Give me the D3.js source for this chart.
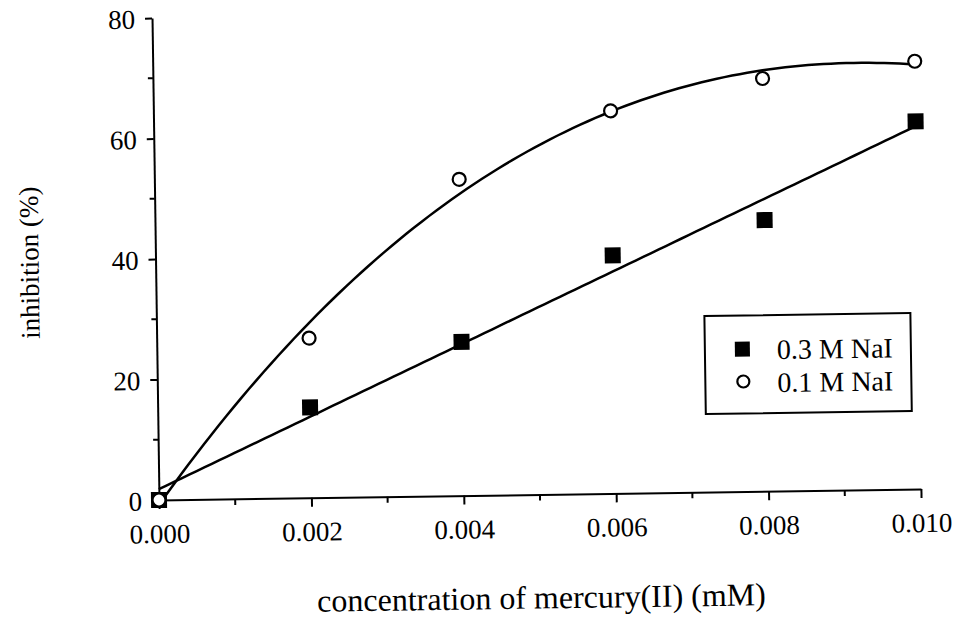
<!DOCTYPE html>
<meta charset="utf-8">
<style>
body { margin: 0; background: #fff; }
text { font-family: "Liberation Serif", "Times New Roman", serif; fill: #000; }
.axis path, .axis line { stroke: #000; stroke-width: 2px; }
.fit { fill: none; stroke: #000; stroke-width: 2.5px; }
</style>
<svg width="956" height="622"></svg>
<script src="https://cdn.jsdelivr.net/npm/d3@7"></script>
<script>

// concentration of mercury(II), mM
var conc = [0, 0.002, 0.004, 0.006, 0.008, 0.010];
// inhibition (%)
var nai03 = [0, 15, 25.5, 39.5, 45, 61];
var nai01 = [0, 26.5, 52.5, 63.5, 68.5, 71];
var xTicks = [0, 0.002, 0.004, 0.006, 0.008, 0.010];
var yTicks = [0, 20, 40, 60, 80];

var svg = d3.select("svg"),
    w = 762, h = 482;

// the scan is turned a little, so the whole plot is too
var g = svg.append("g")
    .attr("transform", "translate(159,500) rotate(-0.83) translate(0," + (-h) + ")");

var x = d3.scaleLinear().domain([0, 0.010]).range([0, w]);
var y = d3.scaleLinear().domain([0, 80]).range([h, 0]);

// least squares polynomial, used for the two fitted curves
function polyfit(xs, ys, deg) {
  var n = deg + 1, A = [], i, j, k;
  for (i = 0; i < n; i++) {
    A.push([]);
    for (j = 0; j <= n; j++) A[i].push(0);
  }
  xs.forEach(function(xv, p) {
    var u = xv * 1000;
    for (i = 0; i < n; i++) {
      for (j = 0; j < n; j++) A[i][j] += Math.pow(u, i + j);
      A[i][n] += Math.pow(u, i) * ys[p];
    }
  });
  for (i = 0; i < n; i++) {
    for (k = i + 1; k < n; k++) {
      var f = A[k][i] / A[i][i];
      for (j = i; j <= n; j++) A[k][j] -= f * A[i][j];
    }
  }
  var c = new Array(n);
  for (i = n - 1; i >= 0; i--) {
    var s = A[i][n];
    for (j = i + 1; j < n; j++) s -= A[i][j] * c[j];
    c[i] = s / A[i][i];
  }
  return function(xv) {
    var u = xv * 1000, r = 0;
    for (var q = 0; q < n; q++) r += c[q] * Math.pow(u, q);
    return r;
  };
}

var fit03 = polyfit(conc, nai03, 1),
    fit01 = polyfit(conc, nai01, 3);

var line = d3.line()
    .x(function(d) { return x(d[0]); })
    .y(function(d) { return y(d[1]); });

var xs = d3.range(0, 101).map(function(i) { return i * 0.0001; });

g.append("path").attr("class", "fit")
    .attr("d", line(xs.map(function(v) { return [v, fit03(v)]; })));
g.append("path").attr("class", "fit")
    .attr("d", line(xs.map(function(v) { return [v, fit01(v)]; })));

// axes: majors with labels, minors in between
var xAxis = g.append("g").attr("class", "axis")
    .attr("transform", "translate(0," + h + ")")
    .call(d3.axisBottom(x).tickValues(xTicks).tickSize(9).tickSizeOuter(0)
      .tickFormat(d3.format(".3f")));
xAxis.selectAll("text").attr("font-size", 27).attr("dy", "1.15em");
xAxis.append("g").selectAll("line")
    .data(d3.range(1, 10, 2).map(function(i) { return i * 0.001; }))
    .enter().append("line")
      .attr("x1", function(d) { return x(d); }).attr("x2", function(d) { return x(d); })
      .attr("y1", 0).attr("y2", 6);

var yAxis = g.append("g").attr("class", "axis")
    .call(d3.axisLeft(y).tickValues(yTicks).tickSize(7).tickSizeOuter(0));
yAxis.selectAll("text").attr("font-size", 27).attr("x", -17).attr("dy", "0.36em");
yAxis.append("g").selectAll("line")
    .data([10, 30, 50, 70])
    .enter().append("line")
      .attr("x1", -5).attr("x2", 0)
      .attr("y1", function(d) { return y(d); }).attr("y2", function(d) { return y(d); });
yAxis.selectAll(".domain, line").attr("stroke-width", 2);
xAxis.selectAll(".domain, line").attr("stroke-width", 2);

// markers
var pts03 = conc.map(function(c, i) { return [c, nai03[i]]; }),
    pts01 = conc.map(function(c, i) { return [c, nai01[i]]; });

g.selectAll(".sq").data(pts03).enter().append("rect")
    .attr("x", function(d) { return x(d[0]) - 8; })
    .attr("y", function(d) { return y(d[1]) - 8; })
    .attr("width", 16).attr("height", 16)
    .attr("fill", "#000");

g.selectAll(".ci").data(pts01).enter().append("circle")
    .attr("cx", function(d) { return x(d[0]); })
    .attr("cy", function(d) { return y(d[1]); })
    .attr("r", 6.5)
    .attr("fill", "#fff").attr("stroke", "#000").attr("stroke-width", 2.2);

// legend
var lg = g.append("g").attr("transform", "translate(548,306)");
lg.append("rect").attr("width", 206).attr("height", 98)
    .attr("fill", "#fff").attr("stroke", "#000").attr("stroke-width", 2);
lg.append("rect").attr("x", 30).attr("y", 26).attr("width", 15).attr("height", 15);
lg.append("circle").attr("cx", 38).attr("cy", 66).attr("r", 6)
    .attr("fill", "#fff").attr("stroke", "#000").attr("stroke-width", 2.2);
lg.append("text").attr("x", 72).attr("y", 44).attr("font-size", 28).text("0.3 M NaI");
lg.append("text").attr("x", 72).attr("y", 77).attr("font-size", 28).text("0.1 M NaI");

// axis titles
g.append("text").attr("x", w / 2).attr("y", h + 114)
    .attr("text-anchor", "middle").attr("font-size", 32)
    .text("concentration of mercury(II) (mM)");
g.append("text")
    .attr("transform", "translate(-117," + (h / 2 + 2) + ") rotate(-90)")
    .attr("text-anchor", "middle").attr("font-size", 27)
    .text("inhibition (%)");

</script>
